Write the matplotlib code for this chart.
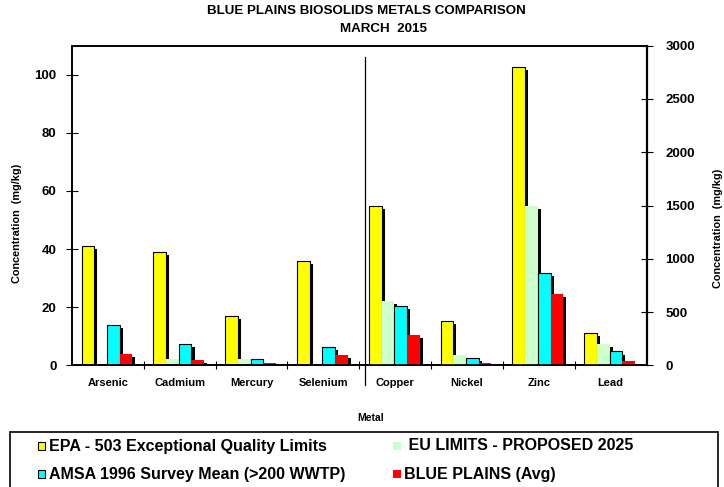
import matplotlib
matplotlib.use("Agg")
import matplotlib.pyplot as plt
import matplotlib.patheffects as pe
from matplotlib.patches import Rectangle
import numpy as np

plt.rcParams['font.family'] = ['Liberation Sans', 'DejaVu Sans']
plt.rcParams['font.weight'] = 'bold'
plt.rcParams['axes.labelweight'] = 'bold'


metals = ['Arsenic', 'Cadmium', 'Mercury', 'Selenium', 'Copper', 'Nickel', 'Zinc', 'Lead']
n_left = 4   # first four metals use left axis (mg/kg up to 110), rest use right axis

series_names = ['EPA - 503 Exceptional Quality Limits', ' EU LIMITS - PROPOSED 2025',
                'AMSA 1996 Survey Mean (>200 WWTP)', 'BLUE PLAINS (Avg)']
epa_503 = [41, 39, 17, 36, 1500, 420, 2800, 300]
eu_2025 = [0, 2, 2, 0, 600, 100, 1500, 200]
amsa_1996 = [14, 7.2, 2, 6.2, 560, 71, 870, 130]
blue_plains = [3.9, 1.7, 0.7, 3.6, 287, 22, 667, 40]

colors = ['#FFFF00', '#CCFFCC', '#00FFFF', '#FF0000']
edges = ['black', 'none', 'black', 'none']

left_ticks = [0, 20, 40, 60, 80, 100]
right_ticks = [0, 500, 1000, 1500, 2000, 2500, 3000]

W, H = 724, 487
fig = plt.figure(figsize=(W / 100, H / 100), dpi=100)
ax = fig.add_axes([72 / W, 1 - 365.3 / H, (646.5 - 72) / W, (365.3 - 45.7) / H])
ax2 = ax.twinx()

shadow = [pe.SimplePatchShadow(offset=(2.2, -2.2), shadow_rgbFace='black', alpha=1.0), pe.Normal()]

x = np.arange(len(metals))
w = 0.177
all_series = [epa_503, eu_2025, amsa_1996, blue_plains]
for i, vals in enumerate(all_series):
    xs = x + (i - 1.5) * w - 0.013
    for a, sl in ((ax, slice(0, n_left)), (ax2, slice(n_left, None))):
        bars = a.bar(xs[sl], vals[sl], width=w, color=colors[i], edgecolor=edges[i],
                     linewidth=0.8)
        for b in bars:
            b.set_path_effects(shadow)

ax.set_xlim(-0.5, len(metals) - 0.5)
ax.set_ylim(0, 110)
ax2.set_ylim(0, 3000)
ax.set_yticks(left_ticks)
ax2.set_yticks(right_ticks)

ax.set_xticks(x)
ax.set_xticklabels(metals, fontsize=8)
ax.set_xticks(np.arange(0.5, len(metals) - 0.5, 1), minor=True)
ax.tick_params(axis='x', which='major', length=0, pad=9)
ax.tick_params(axis='x', which='minor', direction='inout', length=6, width=0.8)
ax.tick_params(axis='y', direction='inout', length=8, width=0.8, labelsize=9.5, pad=7)
ax2.tick_params(axis='y', direction='inout', length=9, width=0.8, labelsize=9.5, pad=9)

for a in (ax, ax2):
    for s in a.spines.values():
        s.set_linewidth(1.2)
ax2.spines['right'].set_linewidth(1.6)

# divider between left-axis and right-axis metals
ax.axvline(3.58, ymin=-0.062, ymax=0.966, color='black', lw=0.9, clip_on=False)

fig.text(366 / W, 1 - 10.5 / H, 'BLUE PLAINS BIOSOLIDS METALS COMPARISON',
         ha='center', va='center', fontsize=9.6)
fig.text(383 / W, 1 - 29.5 / H, 'MARCH  2015', ha='center', va='center', fontsize=9.6)

fig.text(17.5 / W, 1 - 223 / H, 'Concentration  (mg/kg)', rotation=90,
         ha='center', va='center', fontsize=7.8)
fig.text(713 / W, 1 - 228 / H, 'Concentration  (mg/kg)', rotation=90,
         ha='left', va='center', fontsize=7.8)
fig.text(371 / W, 1 - 418 / H, 'Metal', ha='center', va='center', fontsize=7.5)

# legend box (bottom runs off the picture)
fig.add_artist(Rectangle((10 / W, -0.1), 708 / W, (H - 432) / H + 0.1,
                         transform=fig.transFigure, fill=False, ec='black', lw=1.2))
leg_pos = [(38, 446), (393, 446), (38, 474), (393, 474)]
for i, (px, py) in enumerate(leg_pos):
    fig.add_artist(Rectangle((px / W, 1 - (py + 4) / H), 7.5 / W, 8 / H,
                             transform=fig.transFigure, fc=colors[i],
                             ec=edges[i], lw=0.8))
    fig.text((px + 11) / W, 1 - py / H, series_names[i], ha='left', va='center',
             fontsize=11.5)

fig.savefig('out.png', dpi=100)
